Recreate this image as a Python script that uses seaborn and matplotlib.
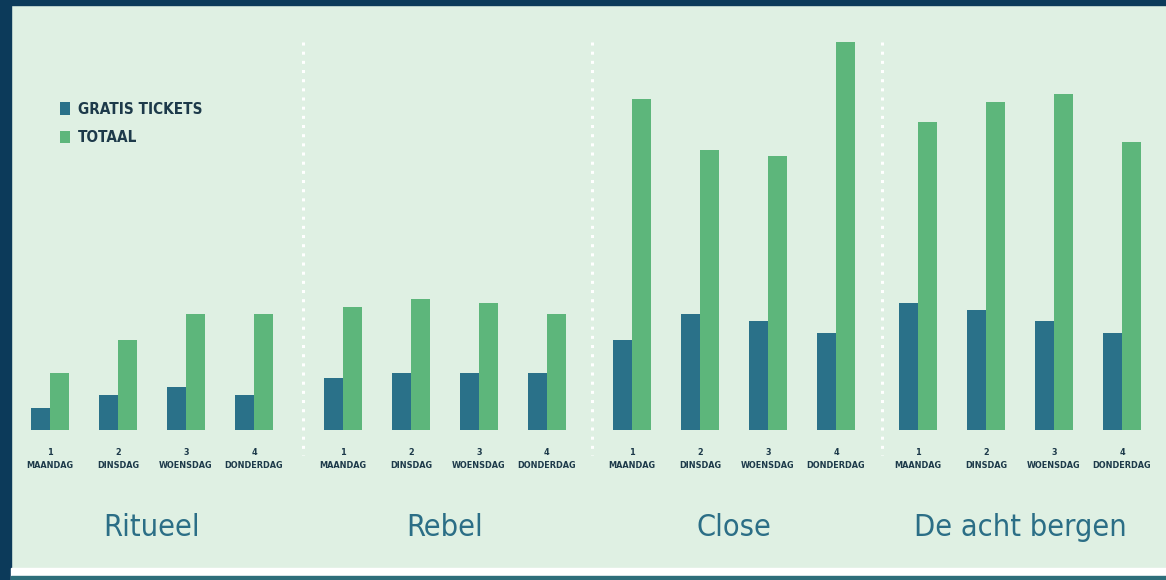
import matplotlib
matplotlib.use('Agg')
import matplotlib.pyplot as plt
from matplotlib.patches import Rectangle
from matplotlib.lines import Line2D
import pandas as pd
import seaborn as sns

# Data (pixel-scale units)
FILMS = ['Ritueel', 'Rebel', 'Close', 'De acht bergen']
DAGEN = ['1\nMAANDAG', '2\nDINSDAG', '3\nWOENSDAG', '4\nDONDERDAG']
SERIES = ['GRATIS TICKETS', 'TOTAAL']
GRATIS = [
    [22, 35, 43, 35],
    [52, 57, 57, 57],
    [90, 116, 109, 97],
    [127, 120, 109, 97],
]
TOTAAL = [
    [57, 90, 116, 116],
    [123, 131, 127, 116],
    [331, 280, 274, 388],
    [308, 328, 336, 288],
]

NAVY = '#0C3A5A'
MINT = '#DFF0E3'
BLAUW = '#2A7189'
GROEN = '#5DB67B'
TEKST = '#1D3A4A'
TITEL = '#2B6E86'

W, H = 1166, 580
FONT = ['DejaVu Sans']

sns.set_theme(style='white')
plt.rcParams['font.family'] = FONT

rows = []
for f, film in enumerate(FILMS):
    for d, dag in enumerate(DAGEN):
        rows.append({'film': film, 'dag': dag, 'serie': SERIES[0], 'waarde': GRATIS[f][d]})
        rows.append({'film': film, 'dag': dag, 'serie': SERIES[1], 'waarde': TOTAAL[f][d]})
df = pd.DataFrame(rows)

fig = plt.figure(figsize=(W / 100, H / 100), dpi=100)
fig.patch.set_facecolor(MINT)

# kader
fig.add_artist(Rectangle((0, 0), 11 / W, 1, transform=fig.transFigure, color=NAVY, zorder=0))
fig.add_artist(Rectangle((0, 1 - 5 / H), 1, 5 / H, transform=fig.transFigure, color=NAVY, zorder=0))
fig.add_artist(Rectangle((11 / W, 0), 1, 12 / H, transform=fig.transFigure, color='white', zorder=0))
fig.add_artist(Rectangle((11 / W, 0), 1, 4 / H, transform=fig.transFigure, color='#2E6E7A', zorder=0))

# panelen (links in px, breedte 4*68 px)
links = [16, 309, 598, 884]
bodem = 430
top = 30
for i, film in enumerate(FILMS):
    ax = fig.add_axes([links[i] / W, (H - bodem) / H, 272 / W, (bodem - top) / H])
    sub = df[df['film'] == film]
    sns.barplot(data=sub, x='dag', y='waarde', hue='serie', order=DAGEN, hue_order=SERIES,
                palette=[BLAUW, GROEN], width=0.55, saturation=1, errorbar=None,
                linewidth=0, ax=ax, legend=(i == 0))
    ax.set_ylim(0, bodem - top)
    ax.set_xlim(-0.5, 3.5)
    ax.set_facecolor('none')
    for s in ax.spines.values():
        s.set_visible(False)
    ax.set_yticks([])
    ax.set_xlabel('')
    ax.set_ylabel('')
    ax.set_xticks(range(4))
    ax.set_xticklabels(DAGEN, fontsize=6.5, fontweight='bold', fontstretch='condensed',
                       color=TEKST, linespacing=1.5)
    ax.tick_params(axis='x', length=0, pad=13)
    ax.text(1.5, -97, film, ha='center', va='center', fontsize=22, color=TITEL,
            fontstretch='condensed', transform=ax.transData, clip_on=False)
    if i == 0:
        handles, labels = ax.get_legend_handles_labels()
        ax.get_legend().remove()
        fig.legend(handles, labels, loc='upper left', bbox_to_anchor=(46 / W, 1 - 88 / H),
                   frameon=False, handlelength=0.7, handleheight=0.9, handletextpad=0.5,
                   labelspacing=0.88, prop={'family': FONT, 'weight': 'bold', 'size': 11,
                                            'stretch': 'condensed'},
                   labelcolor=TEKST)

# stippellijnen tussen de films
for x in [303, 592, 882]:
    fig.add_artist(Line2D([x / W, x / W], [1 - 42 / H, 1 - 455 / H], transform=fig.transFigure,
                          color='white', linestyle=(0, (1, 2)), linewidth=2.2))

fig.savefig('out.png', dpi=100, facecolor=MINT)
